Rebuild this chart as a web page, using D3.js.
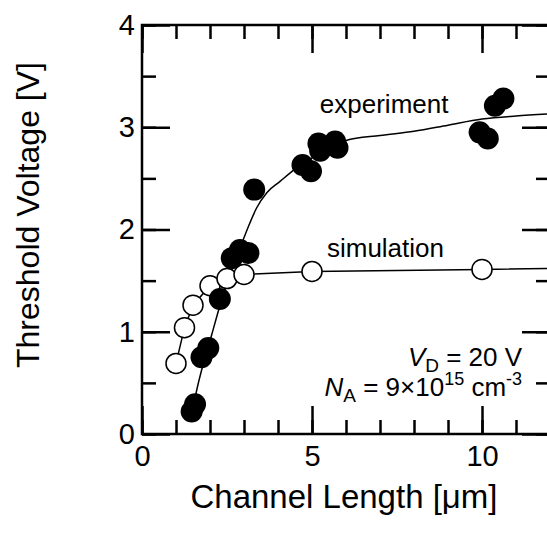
<!DOCTYPE html>
<html>
<head>
<meta charset="utf-8">
<script src="https://cdn.jsdelivr.net/npm/d3@7"></script>
<style>
  body { margin: 0; background: #fff; }
  text { font-family: "Liberation Sans", Arial, sans-serif; fill: #000; }
</style>
</head>
<body>
<svg id="chart" width="547" height="546"></svg>
<script>
// measured points, channel length [um] vs threshold voltage [V]
const expX = [1.46, 1.56, 1.75, 1.95, 2.29, 2.64, 2.88, 3.13, 3.30, 4.72, 4.97, 5.19, 5.24, 5.68, 5.75, 9.93, 10.17, 10.38, 10.63]
const expY = [0.22, 0.29, 0.75, 0.84, 1.32, 1.72, 1.80, 1.77, 2.39, 2.63, 2.57, 2.84, 2.77, 2.86, 2.80, 2.95, 2.89, 3.21, 3.28]

// simulated points (last one lies past the visible axis)
const simX = [1, 1.25, 1.5, 2, 2.5, 3, 5, 10, 15]
const simY = [0.69, 1.04, 1.26, 1.45, 1.52, 1.56, 1.59, 1.61, 1.63]

// smooth guide curve through the experiment
const fitX = [1.47, 1.61, 2.05, 2.27, 2.6, 2.93, 3.13, 3.37, 3.67, 4.06, 4.5, 5.0, 6.0, 7, 8, 9, 10, 11, 12]
const fitY = [0.2, 0.43, 0.97, 1.23, 1.57, 1.86, 2.03, 2.21, 2.36, 2.47, 2.59, 2.70, 2.87, 2.92, 2.96, 3.02, 3.08, 3.11, 3.13]

const xMajor = [0, 5, 10]
const xMinor = d3.range(0, 13, 1)
const yMajor = [0, 1, 2, 3, 4]
const yMinor = d3.range(0, 4.01, 0.5)

const margin = {left: 142, top: 25}
const width  = 408
const height = 409

const x = d3.scaleLinear().domain([0, 12]).range([0, width])
const y = d3.scaleLinear().domain([0, 4]).range([height, 0])

const svg = d3.select('#chart')
const g = svg.append('g').attr('transform', `translate(${margin.left},${margin.top})`)

g.append('clipPath').attr('id', 'plot')
  .append('rect').attr('width', width).attr('height', height)

// ticks, all pointing inward
function tickAxis(axis, size, tr, labels, pad) {
  const a = g.append('g')
    .attr('transform', tr)
    .call(axis.tickSize(-size).tickSizeOuter(0).tickPadding(pad || 0)
      .tickFormat(labels ? d3.format('d') : ''))
  a.select('.domain').remove()
  a.selectAll('line').attr('stroke', '#000').attr('stroke-width', 2.5)
  a.selectAll('text').attr('font-size', 29).attr('font-family', null)
  return a
}

tickAxis(d3.axisBottom(x).tickValues(xMinor), 14, `translate(0,${height})`)
tickAxis(d3.axisBottom(x).tickValues(xMajor), 28, `translate(0,${height})`, true, 11)
tickAxis(d3.axisTop(x).tickValues(xMinor), 14, 'translate(0,0)')
tickAxis(d3.axisTop(x).tickValues(xMajor), 28, 'translate(0,0)')
tickAxis(d3.axisLeft(y).tickValues(yMinor), 14, 'translate(0,0)')
tickAxis(d3.axisLeft(y).tickValues(yMajor), 28, 'translate(0,0)', true, 7)
tickAxis(d3.axisRight(y).tickValues(yMinor), 14, `translate(${width},0)`)
tickAxis(d3.axisRight(y).tickValues(yMajor), 28, `translate(${width},0)`)

g.append('rect')
  .attr('width', width).attr('height', height)
  .attr('fill', 'none').attr('stroke', '#000').attr('stroke-width', 2.5)

const marks = g.append('g').attr('clip-path', 'url(#plot)')
const line = d3.line().x(d => x(d[0])).y(d => y(d[1]))

marks.append('path')
  .datum(d3.zip(fitX, fitY))
  .attr('d', line.curve(d3.curveMonotoneX))
  .attr('fill', 'none').attr('stroke', '#000').attr('stroke-width', 1.5)

marks.append('path')
  .datum(d3.zip(simX, simY))
  .attr('d', line.curve(d3.curveLinear))
  .attr('fill', 'none').attr('stroke', '#000').attr('stroke-width', 1.5)

marks.selectAll('circle.sim')
  .data(d3.zip(simX, simY))
  .join('circle').attr('class', 'sim')
  .attr('cx', d => x(d[0])).attr('cy', d => y(d[1])).attr('r', 10)
  .attr('fill', '#fff').attr('stroke', '#000').attr('stroke-width', 1.5)

marks.selectAll('circle.exp')
  .data(d3.zip(expX, expY))
  .join('circle').attr('class', 'exp')
  .attr('cx', d => x(d[0])).attr('cy', d => y(d[1])).attr('r', 11)
  .attr('fill', '#000')

// labels
g.append('text').attr('x', x(5.23)).attr('y', y(3.14)).attr('font-size', 26).text('experiment')
g.append('text').attr('x', x(5.44)).attr('y', y(1.73)).attr('font-size', 26).text('simulation')

const vd = g.append('text').attr('x', x(11.18)).attr('y', y(0.667))
  .attr('font-size', 26).attr('text-anchor', 'end')
vd.append('tspan').attr('font-style', 'italic').text('V')
vd.append('tspan').attr('font-size', 19).attr('dy', 6).text('D')
vd.append('tspan').attr('dy', -6).text(' = 20 V')

const na = g.append('text').attr('x', x(11.18)).attr('y', y(0.375))
  .attr('font-size', 26).attr('text-anchor', 'end')
na.append('tspan').attr('font-style', 'italic').text('N')
na.append('tspan').attr('font-size', 19).attr('dy', 6).text('A')
na.append('tspan').attr('dy', -6).text(' = 9\u00d710')
na.append('tspan').attr('font-size', 18).attr('dy', -11).text('15')
na.append('tspan').attr('dy', 11).text(' cm')
na.append('tspan').attr('font-size', 18).attr('dy', -11).text('-3')

svg.append('text')
  .attr('x', 344).attr('y', 508)
  .attr('text-anchor', 'middle').attr('font-size', 33)
  .text('Channel Length [\u03bcm]')

svg.append('text')
  .attr('transform', 'translate(39,215) rotate(-90)')
  .attr('text-anchor', 'middle').attr('font-size', 32)
  .text('Threshold Voltage [V]')
</script>
</body>
</html>
